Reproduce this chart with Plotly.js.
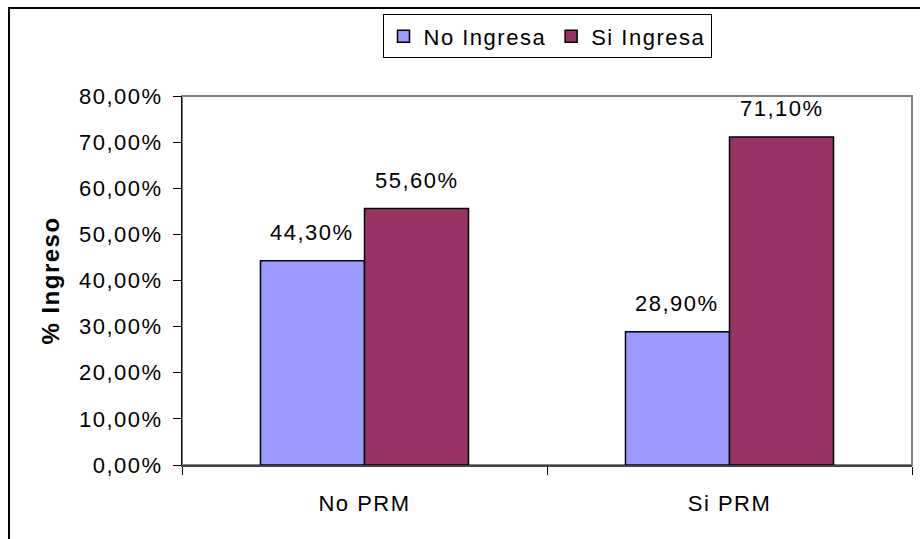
<!DOCTYPE html>
<html>
<head>
<meta charset="utf-8">
<script src="https://cdn.plot.ly/plotly-3.0.1.min.js"></script>
<style>
html,body{margin:0;padding:0;background:#fff;}
svg text{letter-spacing:1.5px;}
#wrap{position:relative;width:920px;height:539px;overflow:hidden;}
#chart{position:absolute;left:0;top:0;width:920px;height:539px;}
#frame{position:absolute;left:8px;top:7px;width:1000px;height:600px;border-left:2px solid #000;border-top:2px solid #000;pointer-events:none;}
</style>
</head>
<body>
<div id="wrap">
<div id="chart"></div>
<div id="frame"></div>
</div>
<script>
const categories = ["No PRM", "Si PRM"];
const seriesNames = ["No Ingresa", "Si Ingresa"];
const noIngresa = [0.443, 0.289];
const siIngresa = [0.556, 0.711];
const colors = ["#9999FF", "#993366"];

const FONT = "Liberation Sans, Arial, Helvetica, sans-serif";
const bargap = 0.43;

function fmt(v){ return (v*100).toFixed(2).replace('.', ',') + '%'; }

const seriesValues = [noIngresa, siIngresa];
const traces = seriesValues.map((vals, i) => ({
  type: 'bar',
  name: seriesNames[i],
  x: categories,
  y: vals,
  marker: {color: colors[i], line: {color: '#000', width: 1.5}},
  hoverinfo: 'none'
}));

const half = (1 - bargap) / 4;
const annotations = [];
seriesValues.forEach((vals, i) => {
  vals.forEach((v, j) => {
    annotations.push({
      xref: 'x', yref: 'y',
      x: j + (i === 0 ? -half : half),
      y: v,
      text: fmt(v),
      showarrow: false,
      xanchor: 'center', yanchor: 'bottom',
      yshift: 14,
      font: {family: FONT, size: 22, color: '#000'}
    });
  });
});

const layout = {
  width: 920, height: 539,
  margin: {l: 182, r: 8, t: 96, b: 74},
  paper_bgcolor: '#fff', plot_bgcolor: '#fff',
  separators: ',.',
  barmode: 'group',
  bargap: bargap,
  bargroupgap: 0,
  showlegend: true,
  legend: {
    orientation: 'h',
    x: 0.5, xanchor: 'center',
    y: 1.221, yanchor: 'top',
    bordercolor: '#000', borderwidth: 1,
    bgcolor: '#fff',
    font: {family: FONT, size: 22, color: '#000'},
    itemwidth: 30,
    traceorder: 'normal'
  },
  font: {family: FONT, size: 22, color: '#000'},
  xaxis: {
    type: 'category',
    showline: true, linecolor: '#444', linewidth: 2,
    ticks: 'outside', tickson: 'boundaries', ticklen: 8, tickcolor: '#000', tickwidth: 1,
    showgrid: false, zeroline: false,
    ticklabelstandoff: 18,
    tickfont: {family: FONT, size: 22, color: '#000'},
    fixedrange: true
  },
  yaxis: {
    range: [0, 0.8],
    dtick: 0.1,
    tick0: 0,
    tickformat: '.2%',
    showline: true, linecolor: '#000', linewidth: 1,
    ticks: 'outside', ticklen: 8, tickcolor: '#000', tickwidth: 1,
    ticklabelstandoff: 6,
    showgrid: false, zeroline: false,
    tickfont: {family: FONT, size: 22, color: '#000'},
    title: {text: '<b>% Ingreso</b>', font: {family: FONT, size: 24, color: '#000'}, standoff: 12},
    fixedrange: true
  },
  shapes: [{
    type: 'rect', xref: 'paper', yref: 'paper',
    x0: 0, x1: 1, y0: 0, y1: 1,
    line: {color: '#808080', width: 2},
    layer: 'below'
  }],
  annotations: annotations
};

Plotly.newPlot('chart', traces, layout, {displayModeBar: false, staticPlot: true});
</script>
</body>
</html>
